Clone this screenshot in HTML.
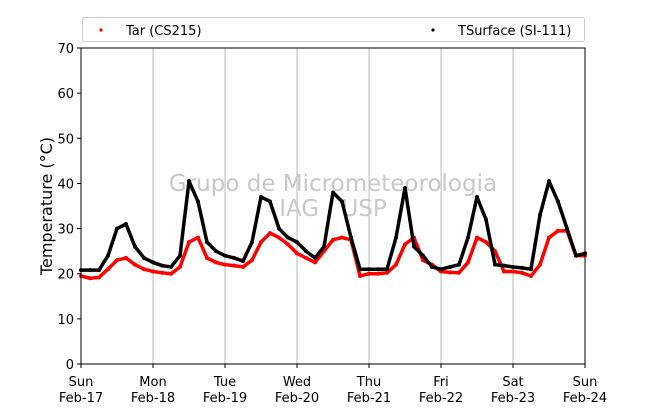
<!DOCTYPE html>
<html><head><meta charset="utf-8"><style>
body{margin:0;background:#fff;}
svg{font-family:"DejaVu Sans","Liberation Sans",sans-serif;}
</style></head><body>
<svg id="chart" width="650" height="409">
<g id="grid"></g>
<g fill="#c8c8c8" font-size="23" text-anchor="middle">
<text x="333" y="191">Grupo de Micrometeorologia</text>
<text x="333" y="216">IAG / USP</text>
</g>
<g id="series"></g>
<g id="axes"></g>
<text transform="translate(52,206) rotate(-90)" text-anchor="middle" font-size="16">Temperature (°C)</text>
<g>
<rect x="82.5" y="17.5" width="502" height="24" fill="#fff" stroke="#ccc" rx="2"/>
<circle cx="101" cy="30" r="1.6" fill="#ff0000"/>
<text x="126" y="35" font-size="13">Tar (CS215)</text>
<circle cx="433" cy="30" r="1.6" fill="#000"/>
<text x="458" y="35" font-size="13">TSurface (SI-111)</text>
</g>
</svg>
<script>
const dayLabels=["Sun","Mon","Tue","Wed","Thu","Fri","Sat","Sun"];
const dateLabels=["Feb-17","Feb-18","Feb-19","Feb-20","Feb-21","Feb-22","Feb-23","Feb-24"];
const yTicks=[0,10,20,30,40,50,60,70];
const stepHours=3;
const tSurface=[20.8,20.8,20.8,24,30,31,26,23.5,
22.5,21.8,21.5,24,40.5,36,27,25,
24,23.5,22.8,27,37,36,30,28,
27,25,23.5,26,38,36,28,21,
21,21,21,28,39,26,24,21.5,
21,21.5,22,28,37,32,22,21.8,
21.5,21.3,21,33,40.5,36,30,24,
24.5];
const tAir=[19.5,19,19.2,21,23,23.5,22,21,
20.5,20.2,20,21.5,27,28,23.5,22.5,
22,21.8,21.5,23,27,29,28,26.5,
24.5,23.5,22.5,25,27.5,28,27.5,19.5,
20,20,20.2,22,26.5,28,23,22,
20.5,20.3,20.2,22.5,28,27,25,20.5,
20.5,20.2,19.5,22,28,29.5,29.5,24,
24];
const X0=81,X1=585,Y0=364,Y1=48;
const xScale=h=>X0+(X1-X0)*h/168;
const yScale=v=>Y0-(Y0-Y1)*v/70;
const NS="http://www.w3.org/2000/svg";
function mk(tag,attrs,parent){const e=document.createElementNS(NS,tag);for(const k in attrs)e.setAttribute(k,attrs[k]);parent.appendChild(e);return e;}
const grid=document.getElementById('grid'),axes=document.getElementById('axes'),series=document.getElementById('series');
dayLabels.forEach((d,i)=>{
  const x=xScale(i*24);
  if(i>0&&i<7){const l=mk('line',{x1:x,x2:x,y1:Y1,y2:Y0,stroke:'#bbb','stroke-width':1},grid);
  
  }
  const t=mk('line',{x1:x,x2:x,y1:Y0,y2:Y0+4,stroke:'#000'},axes);
  
  
  const tx=mk('text',{x:x,y:386,'text-anchor':'middle','font-size':13},axes);
  
  
  tx.textContent=d;
  const tx2=mk('text',{x:x,y:402,'text-anchor':'middle','font-size':13},axes);
  
  
  tx2.textContent=dateLabels[i];
});
yTicks.forEach(v=>{
  const y=yScale(v);
  const t=mk('line',{x1:X0-4,x2:X0,y1:y,y2:y,stroke:'#000'},axes);
  
  
  const tx=mk('text',{x:X0-7,y:y+5,'text-anchor':'end','font-size':13},axes);
  
  
  tx.textContent=v;
});
const frame=mk('rect',{x:X0,y:Y1,width:X1-X0,height:Y0-Y1,fill:'none',stroke:'#000','stroke-width':1},axes);


function drawSeries(vals,color,name){
  const g=mk('g',{},series);
  
  
  const pts=vals.map((v,i)=>xScale(i*stepHours)+','+yScale(v)).join(' ');
  const pl=mk('polyline',{points:pts,fill:'none',stroke:color,'stroke-width':3.5,'stroke-linejoin':'round'},g);
  
  
  vals.forEach((v,i)=>{
    const c=mk('circle',{cx:xScale(i*stepHours),cy:yScale(v),r:2,fill:color},g);
    
    
  });
}
drawSeries(tAir,'#ff0000','tar-series');
drawSeries(tSurface,'#000000','tsurface-series');
</script>
</body></html>
